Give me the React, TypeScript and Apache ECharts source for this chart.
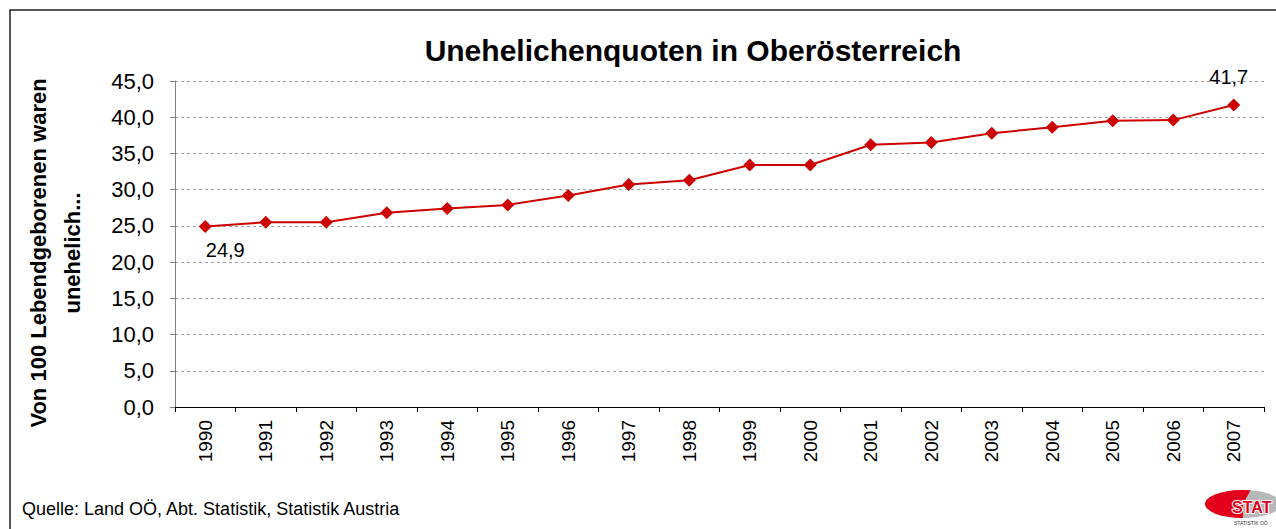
import React, { useEffect, useRef } from "react";
import * as echarts from "echarts";

const years = ["1990","1991","1992","1993","1994","1995","1996","1997","1998","1999","2000","2001","2002","2003","2004","2005","2006","2007"];
const quoten = [24.9, 25.5, 25.5, 26.8, 27.4, 27.9, 29.2, 30.7, 31.3, 33.4, 33.4, 36.2, 36.5, 37.8, 38.6, 39.5, 39.6, 41.7];
const labelledIndex = [0, 17];
const yMin = 0;
const yMax = 45;
const yStep = 5;

const titleText = "Unehelichenquoten in Oberösterreich";
const yAxisTitle = "Von 100 Lebendgeborenen waren\nunehelich...";
const sourceText = "Quelle: Land OÖ, Abt. Statistik, Statistik Austria";

const fmt = (v: number) => v.toFixed(1).replace(".", ",");

export default function App() {
  const ref = useRef<HTMLDivElement>(null);
  useEffect(() => {
    if (!ref.current) return;
    const chart = echarts.init(ref.current, null, { renderer: "svg" });
    const font = "'Liberation Sans', Arial, sans-serif";
    const data = quoten.map((v, i) => {
      if (i === 0) {
        return { value: v, label: { show: true, position: "bottom", offset: [20, 2] } };
      }
      if (i === quoten.length - 1) {
        return { value: v, label: { show: true, position: "top", offset: [-5, -6] } };
      }
      return v;
    });
    chart.setOption({
      animation: false,
      backgroundColor: "#ffffff",
      textStyle: { fontFamily: font },
      title: {
        text: titleText,
        left: 688,
        textAlign: "center",
        top: 30,
        textStyle: { fontFamily: font, fontSize: 30, fontWeight: "bold", color: "#000" },
      },
      grid: { left: 175, top: 81, width: 1089, height: 326, containLabel: false },
      xAxis: {
        type: "category",
        data: years,
        boundaryGap: true,
        axisLine: { lineStyle: { color: "#000", width: 1 } },
        axisTick: { show: true, alignWithLabel: false, length: 5, lineStyle: { color: "#000" } },
        axisLabel: { rotate: 90, fontSize: 19, color: "#000", margin: 13, fontFamily: font, interval: 0 },
      },
      yAxis: {
        type: "value",
        min: yMin,
        max: yMax,
        interval: yStep,
        axisLine: { show: true, lineStyle: { color: "#808080", width: 1 } },
        axisTick: { show: true, length: 5, lineStyle: { color: "#808080" } },
        axisLabel: { fontSize: 22, color: "#000", margin: 21, fontFamily: font, formatter: (v: number) => fmt(v) },
        splitLine: { show: true, lineStyle: { color: "#a0a0a0", type: [3, 3], width: 1 } },
      },
      series: [
        {
          type: "line",
          data,
          symbol: "diamond",
          symbolSize: 13,
          itemStyle: { color: "#CC0000" },
          lineStyle: { color: "#CC0000", width: 2 },
          label: {
            show: false,
            fontSize: 20,
            color: "#000",
            fontFamily: font,
            formatter: (p: any) => (labelledIndex.includes(p.dataIndex) ? fmt(p.value) : ""),
          },
        },
      ],
      graphic: [
        {
          type: "rect",
          shape: { x: 10, y: 10, width: 1320, height: 640 },
          style: { fill: "none", stroke: "#222", lineWidth: 1.5 },
          silent: true,
        },
        {
          type: "text",
          x: 55,
          y: 253,
          rotation: Math.PI / 2,
          style: {
            text: yAxisTitle,
            fontFamily: font,
            fontSize: 22,
            fontWeight: "bold",
            fill: "#000",
            align: "center",
            verticalAlign: "middle",
            lineHeight: 34,
          },
        },
        {
          type: "text",
          x: 22,
          y: 509,
          style: { text: sourceText, fontFamily: font, fontSize: 18, fill: "#000", verticalAlign: "middle" },
        },
        {
          type: "ellipse",
          shape: { cx: 1243, cy: 504, rx: 38, ry: 14 },
          style: { fill: "#b8b8b8" },
        },
        {
          type: "sector",
          shape: { cx: 0, cy: 0, r: 38, r0: 0, startAngle: Math.PI * 0.5, endAngle: Math.PI * 1.5 + 0.2 },
          x: 1243,
          y: 504,
          scaleY: 14 / 38,
          style: { fill: "#e3001b" },
        },
        {
          type: "text",
          x: 1232,
          y: 507,
          style: {
            text: "STAT",
            fontFamily: font,
            fontSize: 16,
            fontWeight: "bold",
            fill: "#e3001b",
            stroke: "#ffffff",
            lineWidth: 2,
            verticalAlign: "middle",
          },
        },
        {
          type: "text",
          x: 1234,
          y: 523,
          style: { text: "STATISTIK OÖ", fontFamily: font, fontSize: 5, fill: "#333", verticalAlign: "middle" },
        },
      ],
    });
    return () => chart.dispose();
  }, []);
  return (
    <div
      ref={ref}
      style={{ position: "fixed", left: 0, top: 0, width: 1276, height: 529 }}
    />
  );
}
